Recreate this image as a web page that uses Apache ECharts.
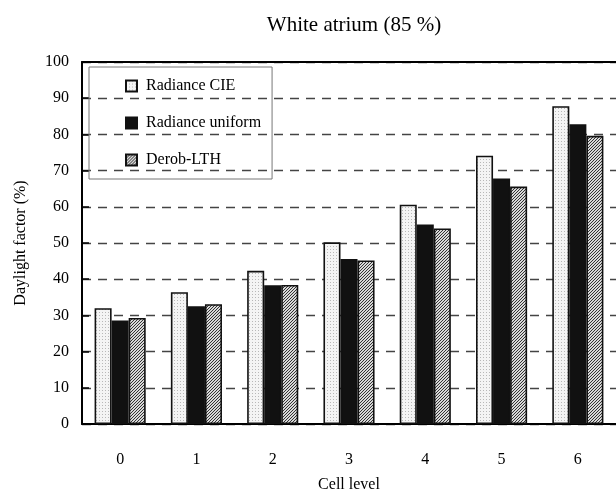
<!DOCTYPE html>
<html>
<head>
<meta charset="utf-8">
<script src="https://cdn.jsdelivr.net/npm/echarts@6/dist/echarts.min.js"></script>
<style>html,body{margin:0;padding:0;background:#fff}#c{width:616px;height:501px}</style>
</head>
<body>
<div id="c"></div>
<script>
const categories = ['0', '1', '2', '3', '4', '5', '6'];
const radianceCIE = [32.0, 36.4, 42.3, 50.2, 60.6, 74.1, 87.8];
const radianceUniform = [28.6, 32.5, 38.3, 45.6, 55.1, 67.8, 82.8];
const derobLTH = [29.3, 33.1, 38.4, 45.2, 54.0, 65.6, 79.6];
const seriesNames = ['Radiance CIE', 'Radiance uniform', 'Derob-LTH'];

function makePattern(fn, size) {
  const c = document.createElement('canvas');
  c.width = size; c.height = size;
  const ctx = c.getContext('2d');
  for (let x = 0; x < size; x++) for (let y = 0; y < size; y++) {
    ctx.fillStyle = fn(x, y); ctx.fillRect(x, y, 1, 1);
  }
  return c;
}
const dotPat = makePattern((x, y) => ((x % 3 === 0 && y % 3 === 0) ? '#b8b8b8' : '#f4f4f4'), 6);
const hatchPat = makePattern((x, y) => (((x + y) % 3) === 0 ? '#333' : '#d8d8d8'), 3);

const FONT = 'Liberation Serif';
const chart = echarts.init(document.getElementById('c'));
const barStyle = (fill) => ({ color: fill, borderColor: '#111', borderWidth: 1.6 });
chart.setOption({
  animation: false,
  backgroundColor: '#fff',
  textStyle: { fontFamily: FONT, color: '#000' },
  title: {
    text: 'White atrium (85 %)', left: 349, top: 10, textAlign: 'center',
    textStyle: { fontFamily: FONT, fontSize: 21, fontWeight: 'normal', color: '#000' }
  },
  legend: {
    orient: 'vertical', left: 89, top: 67, itemWidth: 11, itemHeight: 11, itemGap: 21,
    icon: 'rect',
    padding: [11, 11, 11, 36], borderColor: '#777', borderWidth: 1,
    textStyle: { fontFamily: FONT, fontSize: 16, color: '#000', padding: [0, 0, 0, 4] },
    data: seriesNames
  },
  grid: { left: 82, top: 62, width: 537, height: 362 },
  xAxis: [
    {
      type: 'category', data: categories, position: 'bottom',
      axisLine: { lineStyle: { color: '#000', width: 2 } },
      axisTick: { inside: false, length: 7, lineStyle: { color: '#000', width: 2 } },
      axisLabel: { fontFamily: FONT, fontSize: 16, color: '#000', margin: 28 },
      name: 'Cell level', nameLocation: 'middle', nameGap: 53,
      nameTextStyle: { fontFamily: FONT, fontSize: 16, color: '#000' }
    },
    {
      type: 'category', data: categories, position: 'bottom',
      axisLine: { show: false },
      axisTick: { inside: true, alignWithLabel: true, length: 6, lineStyle: { color: '#000', width: 2 } },
      axisLabel: { show: false }
    },
    {
      type: 'category', data: categories, position: 'top',
      axisLine: { show: true, lineStyle: { color: '#000', width: 2 } },
      axisTick: { show: false }, axisLabel: { show: false }
    }
  ],
  yAxis: {
    type: 'value', min: 0, max: 100, interval: 10,
    axisLine: { show: true, lineStyle: { color: '#000', width: 2 } },
    axisTick: { show: true, inside: true, length: 7, lineStyle: { color: '#000', width: 1.5 } },
    axisLabel: { fontFamily: FONT, fontSize: 16, color: '#000', margin: 13 },
    splitLine: { show: true, lineStyle: { color: '#444', width: 1.3, type: [9, 7] } },
    name: 'Daylight factor (%)', nameLocation: 'middle', nameGap: 53, nameRotate: 90,
    nameTextStyle: { fontFamily: FONT, fontSize: 16, color: '#000' }
  },
  series: [
    { name: seriesNames[0], type: 'bar', xAxisIndex: 0, data: radianceCIE, barGap: '0%', barCategoryGap: '33%',
      itemStyle: barStyle({ image: dotPat, repeat: 'repeat' }) },
    { name: seriesNames[1], type: 'bar', xAxisIndex: 0, data: radianceUniform,
      itemStyle: barStyle('#111') },
    { name: seriesNames[2], type: 'bar', xAxisIndex: 0, data: derobLTH,
      itemStyle: barStyle({ image: hatchPat, repeat: 'repeat' }) }
  ]
});
</script>
</body>
</html>
